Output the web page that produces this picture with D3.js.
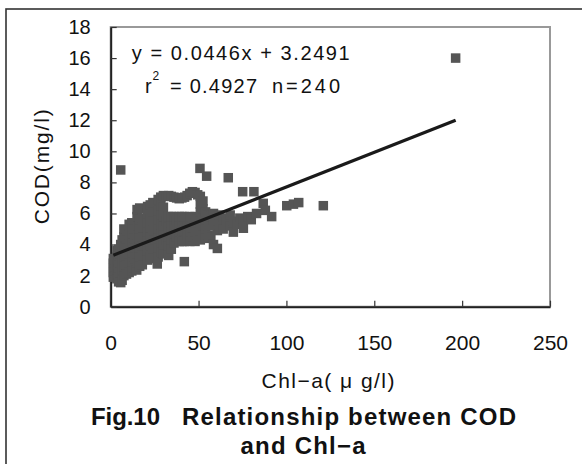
<!DOCTYPE html>
<html>
<head>
<meta charset="utf-8">
<script src="https://cdn.jsdelivr.net/npm/d3@7"></script>
<style>
  body { margin: 0; background: #fff; }
  svg text { font-family: "Liberation Sans", Arial, sans-serif; fill: #111; }
</style>
</head>
<body>
<div class="chart"></div>
<script>
// Chl-a (ug/l) and COD (mg/l), one column of points per line
const chla = [
  1.5, 1.5, 1.5, 1.5, 1.5,
  2.5, 2.5, 2.5, 2.5,
  3.5, 3.5, 3.5, 3.5, 3.5, 3.5,
  4.5, 4.5, 4.5, 4.5, 4.5, 4.5,
  5.7, 5.7, 5.7, 5.7, 5.7, 5.7,
  6.5, 6.5, 6.5, 6.5, 6.5,
  7.5, 7.5, 7.5, 7.5, 7.5, 7.5,
  9, 9, 9, 9, 9, 9,
  10.5, 10.5, 10.5, 10.5, 10.5, 10.5,
  12, 12, 12, 12, 12, 12,
  13.5, 13.5, 13.5, 13.5, 13.5,
  14.8,
  15, 15, 15, 15, 15, 15, 15,
  16.5, 16.5, 16.5, 16.5, 16.5, 16.5, 16.5,
  18, 18, 18, 18, 18, 18, 18,
  21, 21, 21, 21, 21, 21, 21,
  22.5, 22.5, 22.5, 22.5, 22.5, 22.5,
  24, 24, 24, 24, 24, 24, 24,
  26.5,
  27, 27, 27, 27, 27, 27, 27,
  28.5, 28.5, 28.5, 28.5, 28.5, 28.5, 28.5,
  30, 30, 30, 30, 30, 30, 30,
  31.5, 31.5, 31.5,
  33, 33, 33, 33, 33, 33,
  34.5, 34.5, 34.5, 34.5, 34.5, 34.5,
  36, 36, 36, 36, 36,
  37.5, 37.5, 37.5,
  39, 39, 39, 39, 39,
  40.5, 40.5, 40.5, 40.5, 40.5,
  41.9,
  42, 42, 42, 42, 42,
  43.5, 43.5, 43.5,
  45, 45, 45, 45, 45,
  46.5, 46.5, 46.5, 46.5,
  48, 48, 48, 48, 48,
  49.5, 49.5, 49.5,
  50.8,
  51, 51, 51, 51, 51, 51,
  52.5, 52.5, 52.5, 52.5, 52.5,
  54, 54, 54, 54,
  54.6,
  55.5, 55.5, 55.5,
  57, 57, 57,
  58.5, 58.5, 58.5,
  60.7, 60.7, 60.7,
  62, 62,
  64, 64,
  66, 66.9,
  68, 68,
  69.8, 69.8,
  72, 73.5, 75.1, 75.5, 75.5, 78, 80, 81.5, 83, 86.8, 88, 91.6,
  100.2, 104, 107, 121, 196.3
];
const cod = [
  1.9, 2.2, 2.5, 2.8, 3.1,
  2.0, 2.3, 2.6, 3.0,
  1.8, 2.1, 2.4, 2.7, 3.2, 3.6,
  1.6, 2.0, 2.5, 2.9, 3.3, 3.7,
  1.55, 2.2, 2.8, 3.4, 4.0, 8.8,
  1.7, 2.4, 3.0, 3.6, 4.3,
  2.0, 2.6, 3.2, 3.8, 4.5, 5.0,
  2.1, 2.7, 3.3, 3.9, 4.4, 4.9,
  2.2, 2.8, 3.4, 4.0, 4.6, 5.3,
  2.3, 2.9, 3.5, 4.1, 4.7, 5.4,
  2.5, 3.2, 3.8, 4.4, 5.0,
  2.36,
  2.8, 3.4, 4.0, 4.6, 5.2, 5.8, 6.25,
  2.6, 3.2, 3.8, 4.4, 5.0, 5.6, 6.35,
  2.7, 3.3, 3.9, 4.5, 5.1, 5.7, 6.3,
  3.0, 3.6, 4.2, 4.8, 5.4, 6.0, 6.45,
  3.2, 3.9, 4.5, 5.1, 5.7, 6.55,
  3.1, 3.7, 4.3, 4.9, 5.5, 6.1, 6.7,
  2.75,
  3.2, 3.8, 4.4, 5.0, 5.6, 6.2, 6.9,
  3.5, 4.1, 4.7, 5.3, 5.9, 6.5, 7.05,
  3.4, 4.0, 4.6, 5.2, 5.8, 6.4, 7.15,
  4.3, 5.5, 7.1,
  3.3, 3.9, 4.5, 5.1, 5.8, 7.15,
  3.7, 4.3, 4.9, 5.4, 5.8, 7.1,
  4.1, 4.7, 5.3, 5.8, 7.05,
  4.5, 5.5, 7.0,
  4.2, 4.8, 5.4, 5.8, 6.95,
  4.2, 4.8, 5.4, 5.8, 7.0,
  2.9,
  4.2, 4.9, 5.5, 5.8, 7.05,
  4.6, 5.2, 7.15,
  4.2, 4.8, 5.4, 5.8, 7.3,
  4.5, 5.1, 5.7, 7.4,
  4.2, 4.8, 5.4, 5.8, 7.35,
  4.6, 5.6, 7.2,
  8.9,
  4.3, 4.9, 5.5, 6.1, 6.6, 7.1,
  4.6, 5.2, 5.8, 6.3, 6.8,
  4.4, 5.0, 5.6, 6.1,
  8.4,
  4.6, 5.3, 5.9,
  4.5, 5.2, 5.8,
  4.0, 5.5, 6.0,
  3.75, 4.9, 5.6,
  5.3, 5.9,
  5.0, 5.7,
  5.5, 8.3,
  5.2, 5.9,
  4.8, 5.5,
  5.3, 5.7, 7.4, 5.05, 5.6, 5.8, 5.6, 7.4, 6.0, 6.65, 6.2, 5.8,
  6.5, 6.6, 6.7, 6.5, 16.0
];

// trendline from the chart's own equation
const slope = 0.0446;
const intercept = 3.2491;

const xTicks = [0, 50, 100, 150, 200, 250];
const yTicks = [0, 2, 4, 6, 8, 10, 12, 14, 16, 18];

const svgWidth = 582, svgHeight = 464;
const plot = { left: 110.7, top: 27, right: 550, bottom: 306.7 };

const svg = d3.select(".chart").append("svg")
  .attr("width", svgWidth)
  .attr("height", svgHeight);

// outer frame of the figure (runs off the right and bottom)
svg.append("rect")
  .attr("x", 6).attr("y", 9)
  .attr("width", 620).attr("height", 520)
  .attr("fill", "none").attr("stroke", "#333").attr("stroke-width", 1.6);

const x = d3.scaleLinear().domain([0, 250]).range([plot.left, plot.right]);
const y = d3.scaleLinear().domain([0, 18]).range([plot.bottom, plot.top]);

// plot area border
svg.append("rect")
  .attr("x", plot.left).attr("y", plot.top)
  .attr("width", plot.right - plot.left).attr("height", plot.bottom - plot.top)
  .attr("fill", "none").attr("stroke", "#999").attr("stroke-width", 2);

// axes with inward ticks
const xAxis = svg.append("g")
  .attr("transform", `translate(0, ${plot.bottom})`)
  .call(d3.axisBottom(x).tickValues(xTicks).tickSizeInner(-6).tickSizeOuter(0).tickPadding(28));
const yAxis = svg.append("g")
  .attr("transform", `translate(${plot.left}, 0)`)
  .call(d3.axisLeft(y).tickValues(yTicks).tickSizeInner(-6).tickSizeOuter(0).tickPadding(20));

xAxis.select(".domain").attr("stroke", "#222").attr("stroke-width", 2);
yAxis.select(".domain").attr("stroke", "#222").attr("stroke-width", 2);
xAxis.selectAll(".tick line").attr("stroke", "#333").attr("stroke-width", 1.2);
yAxis.selectAll(".tick line").attr("stroke", "#333").attr("stroke-width", 1.2);
xAxis.selectAll("text").attr("font-size", 21).attr("font-family", null);
yAxis.selectAll("text").attr("font-size", 20).attr("font-family", null);

// points
const pts = chla.map((v, i) => ({ x: v, y: cod[i] }));
const size = 9.5;
svg.append("g").selectAll("rect")
  .data(pts)
  .enter()
  .append("rect")
  .attr("x", d => x(d.x) - size / 2)
  .attr("y", d => y(d.y) - size / 2)
  .attr("width", size)
  .attr("height", size)
  .attr("fill", "#555");

// linear trendline over the data range
const xMin = d3.min(chla), xMax = d3.max(chla);
svg.append("line")
  .attr("x1", x(xMin)).attr("y1", y(slope * xMin + intercept))
  .attr("x2", x(xMax)).attr("y2", y(slope * xMax + intercept))
  .attr("stroke", "#1a1a1a").attr("stroke-width", 3.2);

// equation text
svg.append("text")
  .attr("x", 131.7).attr("y", 60)
  .attr("font-size", 20)
  .attr("textLength", 218).attr("lengthAdjust", "spacing")
  .text("y = 0.0446x + 3.2491");
svg.append("text").attr("x", 145).attr("y", 93.3).attr("font-size", 20).text("r");
svg.append("text").attr("x", 152.5).attr("y", 80).attr("font-size", 12).text("2");
svg.append("text")
  .attr("x", 170).attr("y", 93.3)
  .attr("font-size", 20)
  .attr("textLength", 87).attr("lengthAdjust", "spacing")
  .text("= 0.4927");
svg.append("text")
  .attr("x", 272).attr("y", 93.3)
  .attr("font-size", 20)
  .attr("textLength", 68).attr("lengthAdjust", "spacing")
  .text("n=240");

// axis titles
svg.append("text")
  .attr("x", 328).attr("y", 388)
  .attr("text-anchor", "middle")
  .attr("font-size", 21)
  .attr("textLength", 133).attr("lengthAdjust", "spacing")
  .text("Chl\u2212a( \u03bc g/l)");

svg.append("text")
  .attr("transform", `translate(49, ${(plot.top + plot.bottom) / 2}) rotate(-90)`)
  .attr("text-anchor", "middle")
  .attr("font-size", 21)
  .attr("textLength", 115).attr("lengthAdjust", "spacing")
  .text("COD(mg/l)");

// figure caption
svg.append("text")
  .attr("x", 91).attr("y", 425)
  .attr("font-size", 24).attr("font-weight", "bold")
  .attr("textLength", 69).attr("lengthAdjust", "spacing")
  .text("Fig.10");
svg.append("text")
  .attr("x", 182).attr("y", 425)
  .attr("font-size", 24).attr("font-weight", "bold")
  .attr("textLength", 334).attr("lengthAdjust", "spacing")
  .text("Relationship between COD");
svg.append("text")
  .attr("x", 303).attr("y", 454)
  .attr("text-anchor", "middle")
  .attr("font-size", 24).attr("font-weight", "bold")
  .attr("textLength", 125).attr("lengthAdjust", "spacing")
  .text("and Chl\u2212a");
</script>
</body>
</html>
